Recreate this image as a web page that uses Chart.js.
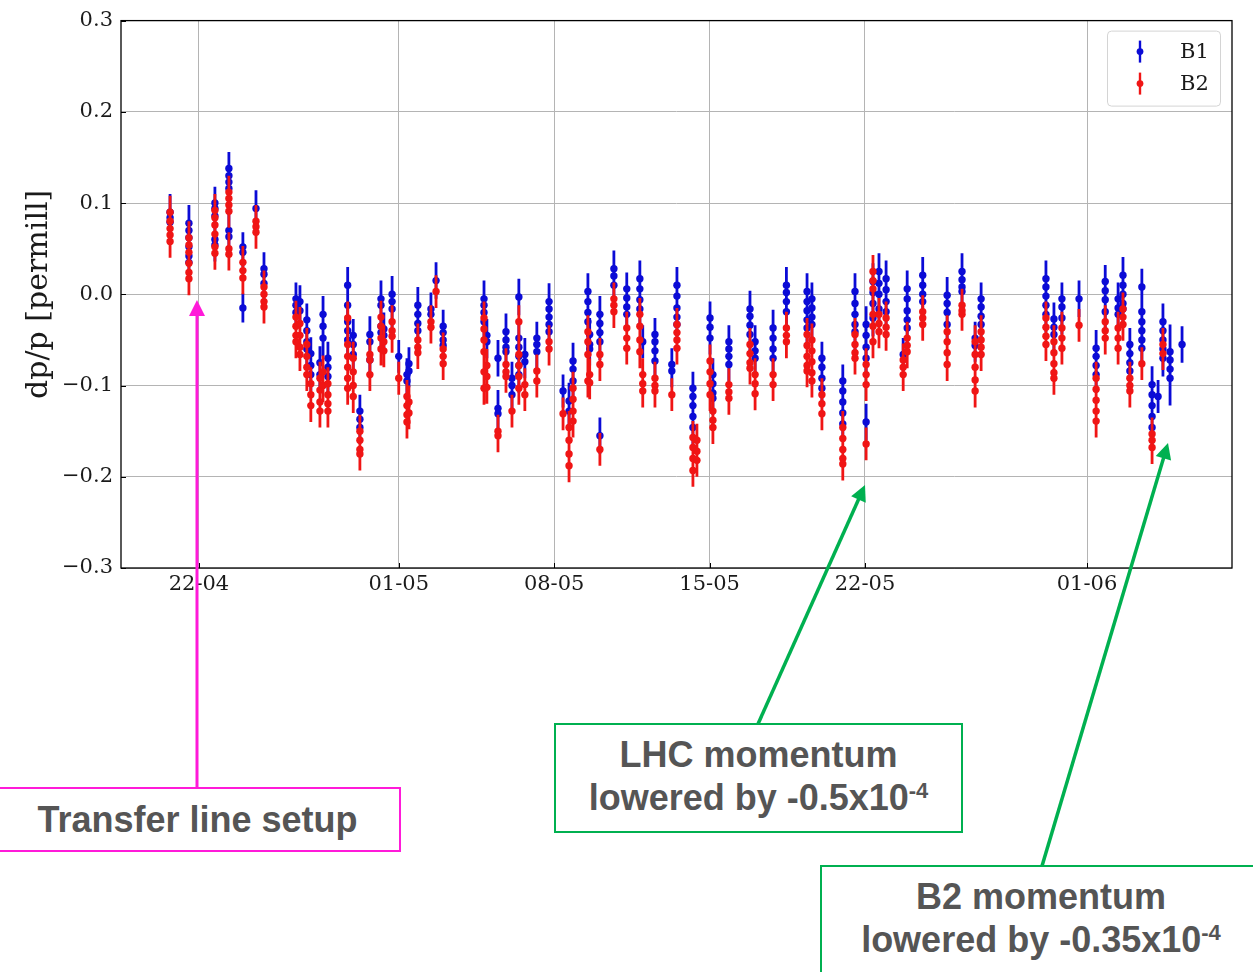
<!DOCTYPE html>
<html>
<head>
<meta charset="utf-8">
<title>dp/p per fill, B1 and B2</title>
<script src="https://cdn.jsdelivr.net/npm/chart.js@4/dist/chart.umd.min.js"></script>
<style>
  html, body { margin: 0; padding: 0; background: #fff; }
  #wrap { position: relative; width: 1253px; height: 972px; overflow: hidden; background: #fff; }
  #plot { position: absolute; left: 0; top: 0; }
  #arrows { position: absolute; left: 0; top: 0; pointer-events: none; }
  .note {
    position: absolute; box-sizing: border-box; background: #fff;
    display: flex; align-items: center; justify-content: center; text-align: center;
    font-family: "Liberation Sans", Arial, sans-serif; font-weight: bold;
    font-size: 36px; line-height: 43px; color: #555555;
  }
  .note .exp { font-size: 22px; position: relative; top: -12px; vertical-align: baseline; }
</style>
</head>
<body>
<div id="wrap">
  <canvas id="plot" width="1253" height="600"></canvas>
  <svg id="arrows" width="1253" height="972"></svg>
  <div class="note" style="left:-6px; top:787px; width:407px; height:65px; border:2px solid #ff1ad9;">Transfer line setup</div>
  <div class="note" style="left:554px; top:723px; width:409px; height:110px; border:2px solid #00b050;"><div>LHC momentum<br>lowered by -0.5x10<span class="exp">-4</span></div></div>
  <div class="note" style="left:820px; top:865px; width:442px; height:110px; border:2px solid #00b050;"><div>B2 momentum<br>lowered by -0.35x10<span class="exp">-4</span></div></div>
</div>
<script>
// Day numbers: 1..30 = April, 31 = 1 May, 62 = 1 June
const tickDays = [22, 31, 38, 45, 52, 62];
const tickLabels = ['22-04', '01-05', '08-05', '15-05', '22-05', '01-06'];
const yTicks = [-0.3, -0.2, -0.1, 0.0, 0.1, 0.2, 0.3];

// Time of each fill (day number)
const fillDay = [
  20.70, 21.55, 22.72, 23.35, 23.98,
  24.57, 24.93, 26.37, 26.55, 26.86,
  27.04, 27.45, 27.59, 27.81, 28.70,
  28.95, 29.25, 29.70, 30.20, 30.33,
  30.70, 31.00, 31.37, 31.46, 31.86,
  32.45, 32.68, 33.00, 34.84, 34.97,
  35.47, 35.83, 36.10, 36.41, 36.68,
  37.22, 37.77, 38.40, 38.67, 38.85,
  39.52, 39.60, 40.06, 40.69, 41.27,
  41.86, 41.99, 42.54, 43.30, 43.53,
  44.25, 44.43, 45.02, 45.15, 45.87,
  46.82, 47.05, 47.86, 48.46, 49.39,
  49.61, 50.06, 51.00, 51.55, 52.05,
  52.36, 52.63, 52.95, 53.72, 53.90,
  54.60, 55.70, 56.37, 56.96, 57.23,
  60.15, 60.51, 60.87, 61.64, 62.41,
  62.82, 63.40, 63.62, 63.93, 64.47,
  64.93, 65.20, 65.42, 65.74, 66.28
];

// B1 dp/p measurements [permill], one list per fill
const b1Dpp = [
  [0.090, 0.084, 0.079], [0.078, 0.070, 0.062, 0.052, 0.042, 0.035], [0.100, 0.094, 0.086, 0.060, 0.054],
  [0.138, 0.130, 0.123, 0.116, 0.070, 0.063], [0.052, 0.046, -0.015],
  [0.094], [0.028, 0.022, 0.012], [-0.005, -0.012, -0.020], [-0.008, -0.018], [-0.028, -0.040, -0.052, -0.060],
  [-0.065, -0.078, -0.088], [-0.075, -0.088], [-0.022, -0.035, -0.048], [-0.070, -0.080, -0.090], [0.010, -0.012, -0.030, -0.040, -0.050],
  [-0.045, -0.055, -0.066], [-0.128, -0.137, -0.146], [-0.044, -0.052, -0.072], [-0.005, -0.012, -0.035, -0.042], [-0.038, -0.045],
  [0.000, -0.008, -0.016], [-0.068], [-0.088, -0.095], [-0.076, -0.084], [-0.012, -0.022, -0.032, -0.040],
  [-0.016, -0.022], [0.015], [-0.035, -0.042, -0.050, -0.056], [-0.005, -0.012, -0.020, -0.030], [-0.045, -0.052],
  [-0.070, -0.125, -0.131], [-0.041, -0.050, -0.058, -0.063], [-0.092, -0.100, -0.110], [-0.003, -0.048, -0.058, -0.068, -0.078, -0.088], [-0.066, -0.074],
  [-0.048, -0.055, -0.063], [-0.008, -0.016, -0.025, -0.033, -0.041], [-0.106], [-0.117, -0.128], [-0.073, -0.082, -0.095],
  [0.003, -0.008, -0.020, -0.030], [-0.044, -0.055, -0.060], [-0.022, -0.032, -0.042, -0.052, -0.155], [0.028, 0.020, 0.010], [0.006, -0.004, -0.014, -0.022],
  [0.017, 0.006, -0.006, -0.016], [-0.052], [-0.044, -0.052, -0.062, -0.073], [-0.077, -0.084], [0.010, -0.002, -0.015, -0.025, -0.033],
  [-0.103, -0.112, -0.122, -0.134, -0.146], [], [-0.026, -0.036, -0.048], [-0.088, -0.098, -0.108, -0.114], [-0.052, -0.060, -0.068, -0.077],
  [-0.016, -0.024, -0.034, -0.044], [-0.052, -0.062, -0.070], [-0.037, -0.048, -0.060, -0.070], [0.010, 0.002, -0.008, -0.019], [0.003, -0.008, -0.018, -0.028, -0.037],
  [-0.005, -0.015, -0.025, -0.033], [-0.070, -0.080, -0.092, -0.103], [-0.095, -0.106, -0.118, -0.130, -0.142], [0.003, -0.010, -0.022, -0.033, -0.041], [-0.033, -0.045, -0.058, -0.070, -0.140],
  [0.014, 0.002, -0.010, -0.026], [0.025, 0.012, 0.000, -0.016], [0.017, 0.005, -0.008, -0.019], [-0.066], [0.006, -0.005, -0.018, -0.028, -0.037],
  [0.021, 0.010, 0.000, -0.008], [-0.001, -0.010, -0.020, -0.033], [0.025, 0.016, 0.008, 0.003], [-0.048, -0.056], [-0.005, -0.014, -0.024, -0.033],
  [0.017, 0.008, -0.002, -0.012, -0.022], [-0.027, -0.036, -0.044], [-0.005, -0.014, -0.026], [-0.005], [-0.059, -0.068, -0.078, -0.088],
  [0.014, 0.004, -0.006, -0.019], [-0.005, -0.015, -0.022], [0.021, 0.010, 0.000, -0.010, -0.016], [-0.055, -0.065, -0.075, -0.084], [0.008, -0.019, -0.030, -0.040, -0.050, -0.059],
  [-0.099, -0.110, -0.122, -0.134, -0.146], [-0.112], [-0.030, -0.040, -0.050, -0.060, -0.070], [-0.063, -0.072, -0.082, -0.092], [-0.055]
];

// B2 dp/p measurements [permill], one list per fill
const b2Dpp = [
  [0.090, 0.080, 0.072, 0.065, 0.058], [0.062, 0.054, 0.046, 0.034, 0.024, 0.017], [0.092, 0.084, 0.076, 0.066, 0.052, 0.045],
  [0.112, 0.105, 0.098, 0.091, 0.050, 0.044], [0.035, 0.026, 0.018],
  [0.080, 0.074, 0.068], [0.008, 0.000, -0.008, -0.014], [-0.025, -0.035, -0.045, -0.052], [-0.032, -0.045, -0.058, -0.066], [-0.055, -0.068, -0.080, -0.088],
  [-0.098, -0.110, -0.122], [-0.092, -0.105, -0.118, -0.128], [-0.085, -0.100], [-0.098, -0.110, -0.120, -0.128], [-0.026, -0.055, -0.068, -0.080, -0.092, -0.103],
  [-0.070, -0.085, -0.100, -0.112], [-0.150, -0.160, -0.170, -0.175], [-0.066, -0.072, -0.088], [-0.025, -0.035, -0.048, -0.060], [-0.052, -0.062],
  [-0.030, -0.040, -0.046], [-0.092], [-0.112, -0.122, -0.132, -0.140], [-0.118, -0.130], [-0.050, -0.058, -0.064],
  [-0.030, -0.036], [0.003], [-0.060, -0.068, -0.076], [-0.026, -0.038, -0.050, -0.063, -0.085, -0.103], [-0.078, -0.090, -0.102],
  [-0.150, -0.155], [-0.077, -0.085, -0.090], [-0.128], [-0.030, -0.066, -0.078, -0.090, -0.103], [-0.099, -0.110],
  [-0.084, -0.095], [-0.052, -0.060], [-0.131], [-0.146, -0.160, -0.175, -0.188], [-0.103, -0.115, -0.128, -0.139],
  [-0.041, -0.052, -0.066, -0.095], [-0.088, -0.097], [-0.066, -0.077, -0.170], [-0.005, -0.012, -0.019], [-0.037, -0.048, -0.059],
  [-0.022, -0.035, -0.050, -0.063], [-0.088, -0.098, -0.106], [-0.092, -0.100, -0.106], [-0.110], [-0.033, -0.042, -0.050, -0.059],
  [-0.157, -0.168, -0.180, -0.193], [-0.160, -0.172, -0.182], [-0.073, -0.085, -0.098, -0.110], [-0.128, -0.138, -0.146], [-0.099, -0.107, -0.114],
  [-0.055, -0.065, -0.075, -0.081], [-0.088, -0.098, -0.109], [-0.088, -0.099], [-0.037, -0.045, -0.052], [-0.044, -0.056, -0.068, -0.078, -0.084],
  [-0.050, -0.062, -0.074, -0.086, -0.095], [-0.110, -0.120, -0.131], [-0.146, -0.158, -0.170, -0.180, -0.186], [-0.044, -0.055, -0.064, -0.070], [-0.077, -0.088, -0.099, -0.164],
  [0.025, 0.015, 0.006, -0.022, -0.035, -0.052], [-0.022, -0.032, -0.041], [-0.026, -0.036, -0.044], [-0.072, -0.080, -0.088], [-0.048, -0.056, -0.063],
  [-0.019, -0.026, -0.033], [-0.041, -0.052, -0.064, -0.077], [-0.012, -0.018, -0.022], [-0.052, -0.066, -0.080, -0.094, -0.106], [-0.041, -0.050, -0.058, -0.066],
  [-0.026, -0.036, -0.046, -0.055], [-0.052, -0.064, -0.076, -0.086, -0.092], [-0.037, -0.048, -0.059], [-0.034], [-0.092, -0.104, -0.116, -0.128, -0.139],
  [-0.030, -0.040, -0.048], [-0.037, -0.048, -0.059], [-0.016, -0.025, -0.033], [-0.092, -0.100, -0.106], [-0.076],
  [-0.153, -0.160, -0.168], [], [-0.055, -0.065], [], []
];

// Measurement uncertainty per fill [permill]
const b1Err = [
  0.020, 0.020, 0.018, 0.018, 0.016,
  0.020, 0.018, 0.018, 0.018, 0.018,
  0.018, 0.018, 0.020, 0.018, 0.020,
  0.018, 0.018, 0.020, 0.020, 0.018,
  0.020, 0.018, 0.018, 0.018, 0.020,
  0.018, 0.020, 0.018, 0.020, 0.018,
  0.020, 0.020, 0.018, 0.020, 0.018,
  0.018, 0.020, 0.018, 0.020, 0.020,
  0.020, 0.018, 0.020, 0.020, 0.018,
  0.020, 0.018, 0.018, 0.018, 0.020,
  0.018, 0.018, 0.018, 0.018, 0.018,
  0.020, 0.018, 0.020, 0.020, 0.020,
  0.018, 0.018, 0.018, 0.020, 0.020,
  0.020, 0.020, 0.020, 0.018, 0.020,
  0.020, 0.020, 0.020, 0.018, 0.018,
  0.020, 0.018, 0.018, 0.020, 0.020,
  0.018, 0.018, 0.020, 0.018, 0.020,
  0.020, 0.018, 0.020, 0.030, 0.020
];
const b2Err = [
  0.018, 0.018, 0.018, 0.018, 0.018,
  0.018, 0.018, 0.018, 0.018, 0.018,
  0.018, 0.018, 0.018, 0.018, 0.018,
  0.018, 0.018, 0.018, 0.018, 0.018,
  0.018, 0.018, 0.018, 0.018, 0.018,
  0.018, 0.018, 0.018, 0.018, 0.018,
  0.018, 0.018, 0.018, 0.018, 0.018,
  0.018, 0.018, 0.018, 0.018, 0.018,
  0.018, 0.018, 0.018, 0.018, 0.018,
  0.018, 0.018, 0.018, 0.018, 0.018,
  0.018, 0.018, 0.018, 0.018, 0.018,
  0.018, 0.018, 0.018, 0.018, 0.018,
  0.018, 0.018, 0.018, 0.018, 0.018,
  0.018, 0.018, 0.018, 0.018, 0.018,
  0.018, 0.018, 0.018, 0.018, 0.018,
  0.018, 0.018, 0.018, 0.018, 0.018,
  0.018, 0.018, 0.018, 0.018, 0.018,
  0.018, 0.018, 0.018, 0.018, 0.018
];

const B1_COLOR = '#0b0bd6';
const B2_COLOR = '#f01515';
const SERIF = '"DejaVu Serif", serif';

function beamPoints(values, errors) {
  const pts = [];
  fillDay.forEach((day, i) => {
    values[i].forEach(v => pts.push({ x: day, y: v, err: errors[i] }));
  });
  return pts;
}

function fmtTick(v) {
  const s = Number(v).toFixed(1);
  return s.startsWith('-') ? '\u2212' + s.slice(1) : s;
}

// Vertical error bars, drawn under each dataset's markers
const errorBars = {
  id: 'errorBars',
  beforeDatasetDraw(chart, args) {
    const ds = chart.data.datasets[args.index];
    const y = chart.scales.y;
    const ctx = chart.ctx;
    const a = chart.chartArea;
    ctx.save();
    ctx.beginPath();
    ctx.rect(a.left, a.top, a.right - a.left, a.bottom - a.top);
    ctx.clip();
    ctx.strokeStyle = ds.borderColor;
    ctx.lineWidth = 2.8;
    ctx.beginPath();
    args.meta.data.forEach((el, i) => {
      const d = ds.data[i];
      ctx.moveTo(el.x, y.getPixelForValue(d.y + d.err));
      ctx.lineTo(el.x, y.getPixelForValue(d.y - d.err));
    });
    ctx.stroke();
    ctx.restore();
  }
};

// Axes frame, inward tick marks and the legend box
const frameAndLegend = {
  id: 'frameAndLegend',
  afterDatasetsDraw(chart) {
    const ctx = chart.ctx;
    const a = chart.chartArea;
    ctx.save();
    ctx.strokeStyle = '#000';
    ctx.lineWidth = 1;
    ctx.beginPath();
    chart.scales.x.ticks.forEach(t => {
      const px = Math.round(chart.scales.x.getPixelForValue(t.value)) + 0.5;
      ctx.moveTo(px, a.bottom); ctx.lineTo(px, a.bottom - 5);
    });
    chart.scales.y.ticks.forEach(t => {
      const py = Math.round(chart.scales.y.getPixelForValue(t.value)) + 0.5;
      ctx.moveTo(a.left, py); ctx.lineTo(a.left + 5, py);
    });
    ctx.stroke();
    ctx.lineWidth = 1.3;
    ctx.strokeRect(a.left, a.top, a.right - a.left, a.bottom - a.top);

    // legend
    const bw = 113, bh = 75;
    const bx = a.right - 12 - bw, by = a.top + 10;
    ctx.beginPath();
    ctx.roundRect(bx + 0.5, by + 0.5, bw, bh, 4);
    ctx.fillStyle = 'rgba(255,255,255,0.85)';
    ctx.fill();
    ctx.strokeStyle = '#d4d4d4';
    ctx.lineWidth = 1;
    ctx.stroke();
    chart.data.datasets.forEach((ds, i) => {
      const cy = by + 21 + i * 32;
      const mx = bx + 33;
      ctx.strokeStyle = ds.borderColor;
      ctx.lineWidth = 2.4;
      ctx.beginPath();
      ctx.moveTo(mx, cy - 11); ctx.lineTo(mx, cy + 11);
      ctx.stroke();
      ctx.fillStyle = ds.backgroundColor;
      ctx.beginPath();
      ctx.arc(mx, cy, 3.4, 0, Math.PI * 2);
      ctx.fill();
      ctx.fillStyle = '#1a1a1a';
      ctx.font = '21px ' + SERIF;
      ctx.textBaseline = 'middle';
      ctx.textAlign = 'left';
      ctx.fillText(ds.label, bx + 73, cy + 1);
    });
    ctx.restore();
  }
};

new Chart(document.getElementById('plot'), {
  type: 'scatter',
  data: {
    datasets: [
      { label: 'B1', data: beamPoints(b1Dpp, b1Err), order: 1,
        backgroundColor: B1_COLOR, borderColor: B1_COLOR, pointRadius: 3.7, pointBorderWidth: 0 },
      { label: 'B2', data: beamPoints(b2Dpp, b2Err), order: 0,
        backgroundColor: B2_COLOR, borderColor: B2_COLOR, pointRadius: 3.7, pointBorderWidth: 0 }
    ]
  },
  options: {
    responsive: false,
    animation: false,
    devicePixelRatio: 1,
    layout: { padding: { top: 17, right: 21, left: 0, bottom: 0 } },
    plugins: { legend: { display: false }, tooltip: { enabled: false } },
    scales: {
      x: {
        type: 'linear', min: 18.49, max: 68.53,
        afterBuildTicks: s => { s.ticks = tickDays.map(v => ({ value: v })); },
        afterFit: s => { s.height = 32; },
        ticks: {
          callback: (v, i) => tickLabels[i],
          autoSkip: false, maxRotation: 0, padding: 4,
          color: '#1a1a1a', font: { family: SERIF, size: 21 }
        },
        grid: { color: '#b4b4b4', lineWidth: 1, drawTicks: false },
        border: { display: false }
      },
      y: {
        type: 'linear', min: -0.3, max: 0.3,
        afterBuildTicks: s => { s.ticks = yTicks.map(v => ({ value: v })); },
        afterFit: s => { s.width = 121; },
        ticks: {
          callback: v => fmtTick(v),
          padding: 8,
          color: '#1a1a1a', font: { family: SERIF, size: 21 }
        },
        title: {
          display: true, text: 'dp/p [permill]', color: '#1a1a1a',
          font: { family: SERIF, size: 30 }, padding: { top: 21, bottom: 0 }
        },
        grid: { color: '#b4b4b4', lineWidth: 1, drawTicks: false },
        border: { display: false }
      }
    }
  },
  plugins: [errorBars, frameAndLegend]
});

// Annotation arrows
function arrow(svg, x1, y1, x2, y2, color, width) {
  const dx = x2 - x1, dy = y2 - y1;
  const len = Math.hypot(dx, dy);
  const ux = dx / len, uy = dy / len;
  const headLen = 16, headHalf = 8;
  const bx = x2 - ux * headLen, by = y2 - uy * headLen;
  const ns = 'http://www.w3.org/2000/svg';
  const line = document.createElementNS(ns, 'line');
  line.setAttribute('x1', x1); line.setAttribute('y1', y1);
  line.setAttribute('x2', bx + ux * 2); line.setAttribute('y2', by + uy * 2);
  line.setAttribute('stroke', color); line.setAttribute('stroke-width', width);
  svg.appendChild(line);
  const head = document.createElementNS(ns, 'polygon');
  head.setAttribute('points', [
    x2 + ',' + y2,
    (bx - uy * headHalf) + ',' + (by + ux * headHalf),
    (bx + uy * headHalf) + ',' + (by - ux * headHalf)
  ].join(' '));
  head.setAttribute('fill', color);
  svg.appendChild(head);
}
const svg = document.getElementById('arrows');
arrow(svg, 197, 788, 197, 300, '#ff1ad9', 3);
arrow(svg, 758, 724, 865, 485, '#00b050', 3.5);
arrow(svg, 1042, 866, 1168, 443, '#00b050', 3.5);
</script>
</body>
</html>
